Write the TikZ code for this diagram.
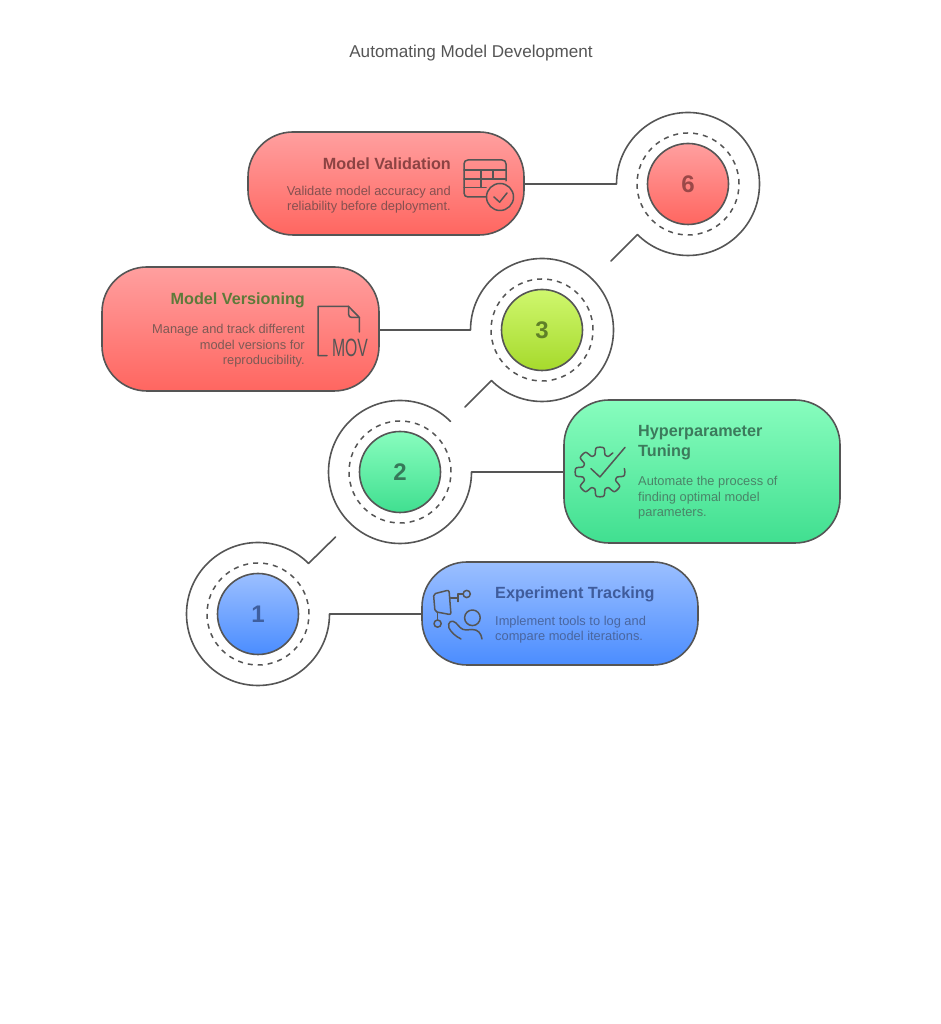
\documentclass[tikz,border=0pt]{standalone}
\usepackage{fontspec}
\setmainfont{Liberation Sans}
\definecolor{ink}{HTML}{555555}
\definecolor{redT}{HTML}{FF9F9F}\definecolor{redB}{HTML}{FF6660}
\definecolor{grnT}{HTML}{88FDBE}\definecolor{grnB}{HTML}{40DF90}
\definecolor{bluT}{HTML}{9BBFFF}\definecolor{bluB}{HTML}{4B8DFF}
\definecolor{limT}{HTML}{CFF76E}\definecolor{limB}{HTML}{A6DA2C}
\tikzset{
  x=1pt,y=1pt,
  line/.style={draw=ink,line width=1.6pt,line join=round,line cap=round},
  pill/.style={draw=ink,line width=1.6pt,rounded corners=45pt,minimum width=#1,inner sep=0pt,shape=rectangle},
  ringbox/.style={circle,minimum size=143pt,inner sep=0pt,outer sep=0pt},
  dashring/.style={circle,minimum size=102pt,inner sep=0pt,draw=ink,line width=1.5pt,dash pattern=on 5pt off 5pt},
  disk/.style={circle,minimum size=81pt,inner sep=0pt,draw=ink,line width=1.6pt,font=\fontsize{24}{24}\selectfont\bfseries},
  ttl/.style={inner sep=0pt,font=\fontsize{16.2}{20}\selectfont\bfseries},
  dsc/.style={inner sep=0pt,font=\fontsize{12.85}{15.4}\selectfont},
  icon/.style={draw=ink,line width=1.5pt,line join=round,line cap=round},
}
\begin{document}
\begin{tikzpicture}
\useasboundingbox[fill=white] (0,0) rectangle (941,1024);
\node[inner sep=0pt,text=ink,font=\fontsize{17.1}{20}\selectfont] (title) at (471,971) {Automating Model Development};

% pills
\node[pill=276pt,minimum height=103pt,top color=redT,bottom color=redB] (pV) at (386,840.5) {};
\node[pill=277pt,minimum height=124pt,top color=redT,bottom color=redB] (pM) at (240.5,695) {};
\node[pill=276pt,minimum height=143pt,top color=grnT,bottom color=grnB] (pH) at (702,552.5) {};
\node[pill=276pt,minimum height=103pt,top color=bluT,bottom color=bluB] (pE) at (560,410.5) {};

% rings
\node[ringbox] (r6) at (688,840) {};
\node[ringbox] (r3) at (542,694) {};
\node[ringbox] (r2) at (400,552) {};
\node[ringbox] (r1) at (258,410) {};
\node[dashring] (q6) at (r6) {};
\node[dashring] (q3) at (r3) {};
\node[dashring] (q2) at (r2) {};
\node[dashring] (q1) at (r1) {};
\node[disk,top color=redT,bottom color=redB] (d6) at (r6) {\textcolor[HTML]{9B4848}{6}};
\node[disk,top color=limT,bottom color=limB] (d3) at (r3) {\textcolor[HTML]{5F8028}{3}};
\node[disk,top color=grnT,bottom color=grnB] (d2) at (r2) {\textcolor[HTML]{36795A}{2}};
\node[disk,top color=bluT,bottom color=bluB] (d1) at (r1) {\textcolor[HTML]{3F5F9F}{1}};

\coordinate (t6) at (611,763);
\coordinate (t3) at (465,617);
\coordinate (t1) at (335.5,487);
\draw[line] (pV.east |- r6.west) -- (r6.west) arc[start angle=180,end angle=-135,radius=71.5pt] -- (t6);
\draw[line] (pM.east |- r3.west) -- (r3.west) arc[start angle=180,end angle=-135,radius=71.5pt] -- (t3);
\draw[line] (pH.west |- r2.east) -- (r2.east) arc[start angle=0,end angle=-315,radius=71.5pt];
\draw[line] (pE.west |- r1.east) -- (r1.east) arc[start angle=0,end angle=-315,radius=71.5pt] -- (t1);

% texts
\node[ttl,anchor=east,text={rgb,255:red,140;green,67;blue,67}] (tV) at (451,860) {Model Validation};
\node[dsc,anchor=east,align=right,text={rgb,255:red,134;green,80;blue,80}] (xV) at (451,824.5) {Validate model accuracy and\\reliability before deployment.};
\node[ttl,anchor=east,text={rgb,255:red,94;green,122;blue,58}] (tM) at (305,724) {Model Versioning};
\node[dsc,anchor=east,align=right,text={rgb,255:red,125;green,90;blue,85}] (xM) at (305,678) {Manage and track different\\model versions for\\reproducibility.};
\node[ttl,anchor=west,align=left,text={rgb,255:red,60;green,122;blue,92}] (tH) at (638,581.5) {Hyperparameter\\Tuning};
\node[dsc,anchor=west,align=left,text={rgb,255:red,74;green,132;blue,104}] (xH) at (638,526) {Automate the process of\\finding optimal model\\parameters.};
\node[ttl,anchor=west,text={rgb,255:red,63;green,92;blue,156}] (tE) at (495,430) {Experiment Tracking};
\node[dsc,anchor=west,align=left,text={rgb,255:red,74;green,102;blue,159}] (xE) at (495,394.5) {Implement tools to log and\\compare model iterations.};

% MOV label
\node[inner sep=0pt,text=ink,font=\fontsize{25}{25}\selectfont] (mov) at (350,676.5) {\scalebox{0.63}[1]{MOV}};

% icons, in the reference's pixel coordinates
\begin{scope}[shift={(0,1024)},yscale=-1]
  % table + check
  \draw[icon] (486,197) -- (468,197) .. controls (465.5,197) and (464,195.5) .. (464,193) -- (464,164)
     .. controls (464,161.5) and (465.5,160) .. (468,160) -- (502,160) .. controls (504.5,160) and (506,161.5) .. (506,164) -- (506,181);
  \draw[icon] (464,170) -- (506,170) (464,179) -- (506,179) (464,187.5) -- (486,187.5) (481,170) -- (481,187.5) (493,170) -- (493,179);
  \draw[icon] (500,197) circle[radius=13.5pt];
  \draw[icon] (494,197) -- (499.6,202.2) -- (507,193);
  % document
  \draw[icon] (327,355.7) -- (318,355.7) -- (318,306.4) -- (348.5,306.4) -- (359.4,317.5) -- (359.4,332);
  \draw[icon] (348.5,306.4) -- (348.5,314) .. controls (348.5,316.5) and (350,317.5) .. (352,317.5) -- (359.4,317.5);
  % gear + check
  \draw[icon] plot[domain=-8:304,samples=300] ({600+(21+3.8*tanh(2.4*cos(8*\x)+0.5))*cos(\x)},{472+(21+3.8*tanh(2.4*cos(8*\x)+0.5))*sin(\x)});
  \draw[icon] (591,468.7) -- (599.9,477) -- (625,447.4);
  % experiment icon
  \draw[icon,rounded corners=2pt] (433.5,594) -- (449,590) -- (451,614.7) -- (435,611.7) -- cycle;
  \draw[icon] (450.5,598.2) -- (458,598.2) (458,601.6) -- (458,594.2) -- (463,594.2);
  \draw[icon] (466.7,594) circle[radius=3.6pt];
  \draw[icon] (437.6,612.5) -- (437.6,620);
  \draw[icon] (437.6,623.6) circle[radius=3.6pt];
  \draw[icon] (472.4,617.8) circle[radius=7.8pt];
  \draw[icon] (461,639) .. controls (455,636) and (451,632) .. (449,628) .. controls (447,622) and (452,619) .. (456,623) .. controls (459,626) and (461,630) .. (466,630) -- (472,629.5) .. controls (478,629.5) and (481,633) .. (482,639);
\end{scope}
\end{tikzpicture}
\end{document}
